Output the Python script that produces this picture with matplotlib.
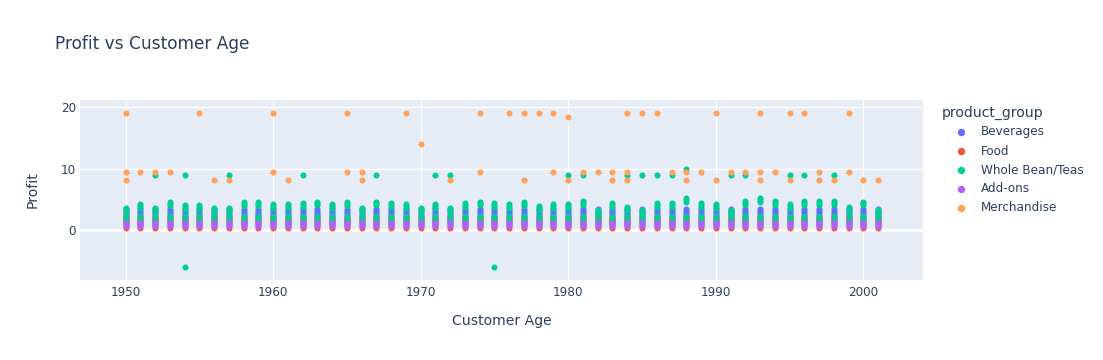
import numpy as np
import matplotlib.pyplot as plt

# ----------------------------------------------
# Data
# ----------------------------------------------
years = list(range(1950, 2002))

# Profit levels that repeat in every birth-year column
bev_levels = [0.9, 1.3, 1.7, 2.1, 2.5, 2.8, 3.1, 3.4]
food_levels = [0.4, 0.6, 1.5, 1.8, 2.0]
bean_levels = [1.4, 2.3]
addon_levels = [0.7, 0.9, 1.1]

# Highest Whole Bean/Teas value in each column (1950..2001)
bean_top = [3.64, 4.18, 3.64, 4.50, 4.07, 4.07, 3.64, 3.64, 4.50, 4.50,
            4.18, 4.18, 4.34, 4.62, 4.18, 4.50, 3.64, 4.62, 4.34, 4.18,
            3.64, 4.18, 3.64, 4.34, 4.62, 4.34, 4.18, 4.50, 3.91, 4.18,
            4.18, 4.73, 3.26, 4.34, 3.80, 3.26, 4.34, 4.34, 5.16, 4.34,
            4.18, 3.26, 4.73, 5.16, 4.73, 4.18, 4.73, 4.73, 4.73, 3.80,
            4.62, 3.26]

# Whole Bean/Teas outliers
bean_out_years = [1952, 1954, 1954, 1957, 1962, 1967, 1971, 1972, 1975, 1980,
                  1981, 1984, 1985, 1986, 1987, 1988, 1991, 1992, 1995, 1996,
                  1998]
bean_out_profit = [9.0, 9.0, -6.0, 9.0, 9.0, 9.0, 9.0, 9.0, -6.0, 9.0,
                   9.0, 9.0, 9.0, 9.0, 9.0, 10.0, 9.0, 9.0, 9.0, 9.0,
                   9.0]

# Merchandise
merch_years = [1950, 1950, 1950, 1951, 1952, 1953, 1955, 1956, 1957, 1960,
               1960, 1961, 1965, 1965, 1966, 1966, 1969, 1970, 1972, 1974,
               1974, 1976, 1977, 1977, 1978, 1979, 1979, 1980, 1980, 1981,
               1982, 1983, 1983, 1984, 1984, 1984, 1985, 1986, 1987, 1988,
               1988, 1989, 1990, 1990, 1991, 1992, 1993, 1993, 1993, 1994,
               1995, 1995, 1996, 1997, 1997, 1998, 1999, 1999, 2000, 2001]
merch_profit = [19.1, 9.5, 8.2, 9.5, 9.5, 9.5, 19.1, 8.2, 8.2, 19.1,
                9.5, 8.2, 19.1, 9.5, 9.5, 8.2, 19.1, 14.0, 8.2, 19.1,
                9.5, 19.1, 19.1, 8.2, 19.1, 19.1, 9.5, 18.4, 8.2, 9.5,
                9.5, 9.5, 8.2, 19.1, 9.5, 8.2, 19.1, 19.1, 9.5, 9.5,
                8.2, 9.5, 19.1, 8.2, 9.5, 9.5, 19.1, 9.5, 8.2, 9.5,
                19.1, 8.2, 19.1, 9.5, 8.2, 8.2, 19.1, 9.5, 8.2, 8.2]

# ----------------------------------------------
# Build point lists per group
# ----------------------------------------------
bev_x = [y for y in years for _ in bev_levels]
bev_y = [v for _ in years for v in bev_levels]
food_x = [y for y in years for _ in food_levels]
food_y = [v for _ in years for v in food_levels]
bean_x = ([y for y in years for _ in bean_levels] + years + years + years
          + bean_out_years)
bean_y = ([v for _ in years for v in bean_levels] + bean_top
          + [t - 0.3 for t in bean_top] + [t - 0.6 for t in bean_top]
          + bean_out_profit)
addon_x = [y for y in years for _ in addon_levels]
addon_y = [v for _ in years for v in addon_levels]

groups = [
    ('Beverages', '#636efa', bev_x, bev_y),
    ('Food', '#EF553B', food_x, food_y),
    ('Whole Bean/Teas', '#00cc96', bean_x, bean_y),
    ('Add-ons', '#ab63fa', addon_x, addon_y),
    ('Merchandise', '#FFA15A', merch_years, merch_profit),
]

# ----------------------------------------------
# Figure
# ----------------------------------------------
W, H = 1103, 360
txt = '#2a3f5f'
plt.rcParams['font.family'] = ['DejaVu Sans']

fig = plt.figure(figsize=(W / 100, H / 100), dpi=100)
L, R, T, B = 80, 923, 100, 280
ax = fig.add_axes([L / W, 1 - B / H, (R - L) / W, (B - T) / H])
ax.set_facecolor('#E5ECF6')

for name, col, xs, ys in groups:
    ax.scatter(xs, ys, s=19, color=col, linewidths=0, label=name, zorder=3)

ax.set_xlim(1946.9, 2004.05)
ax.set_ylim(-8.15, 21.19)
ax.set_xticks([1950, 1960, 1970, 1980, 1990, 2000])
ax.set_yticks([0, 10, 20])
ax.grid(color='white', linewidth=1, zorder=0)
ax.axhline(0, color='white', linewidth=2, zorder=1)
for s in ax.spines.values():
    s.set_visible(False)
ax.tick_params(length=0, labelsize=8.64, labelcolor=txt)
ax.tick_params(axis='x', pad=4)
ax.tick_params(axis='y', pad=3)

ax.set_xlabel('Customer Age', fontsize=10.08, color=txt, labelpad=11)
ax.set_ylabel('Profit', fontsize=10.08, color=txt, labelpad=15)

fig.text(55 / W, 1 - 44 / H, 'Profit vs Customer Age', fontsize=12.24,
         color=txt, va='center', ha='left')

# Legend drawn by hand in pixel positions
fig.text(942 / W, 1 - 113 / H, 'product_group', fontsize=10.08, color=txt,
         va='center', ha='left')
for i, (name, col, _, _) in enumerate(groups):
    yy = 1 - (132 + 19 * i) / H
    fig.add_artist(plt.Line2D([961 / W], [yy], marker='o', markersize=4.3,
                              color=col, linestyle='none',
                              transform=fig.transFigure))
    fig.text(981 / W, yy, name, fontsize=8.64, color=txt,
             va='center', ha='left')

fig.savefig('out.png', dpi=100)
